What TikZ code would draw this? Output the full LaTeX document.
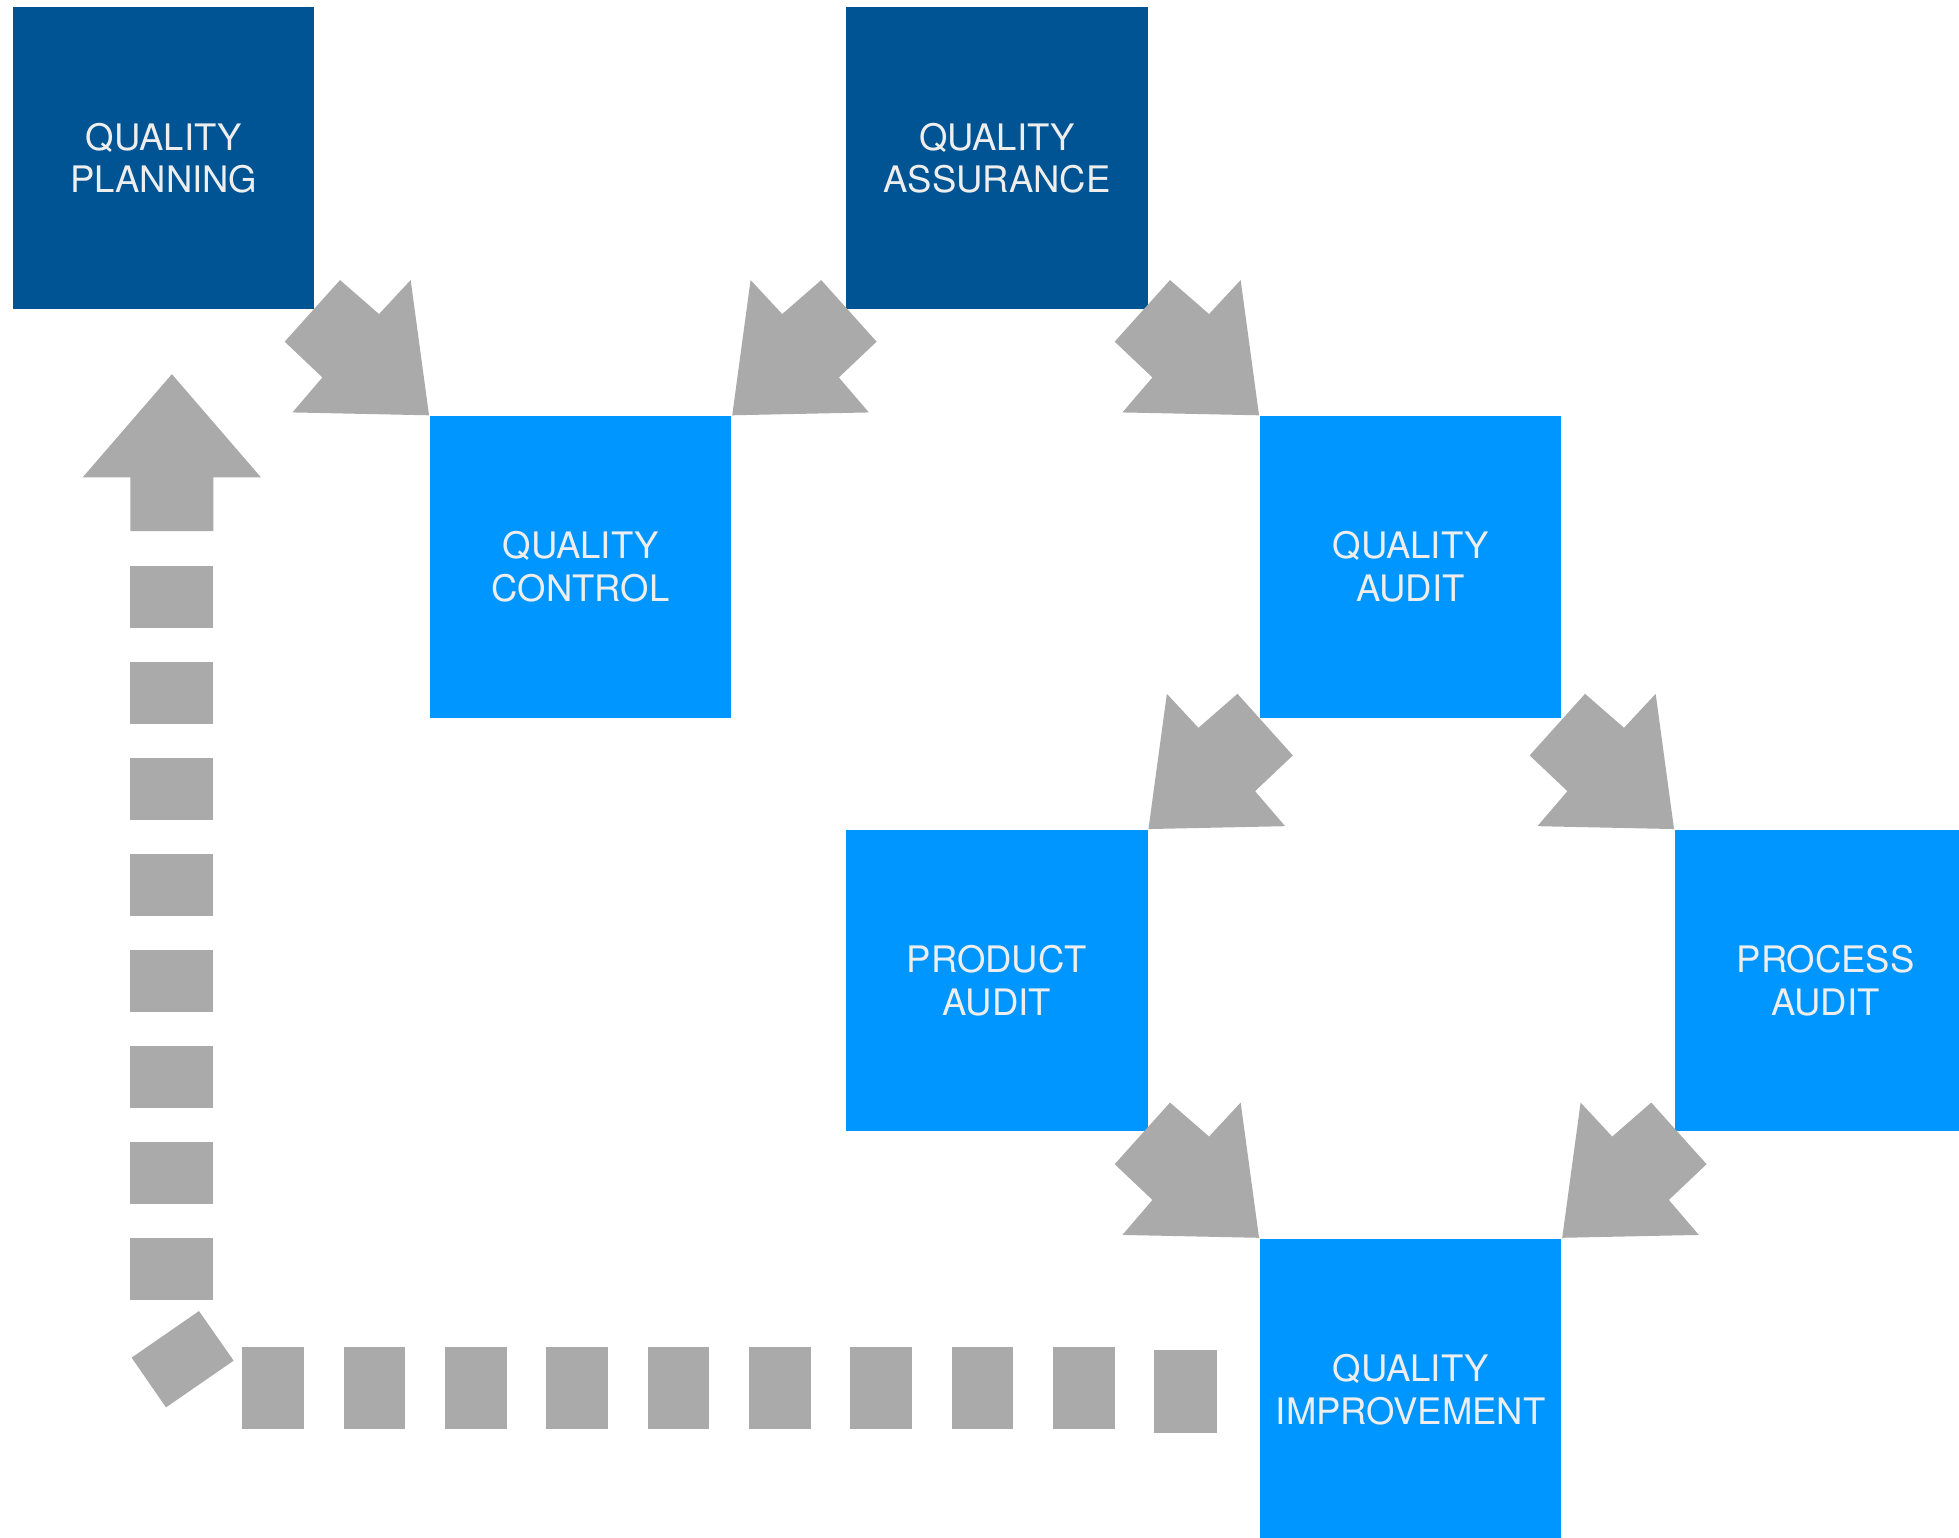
\documentclass[tikz,border=0pt]{standalone}
\usepackage{fontspec}
\setmainfont{TeX Gyre Heros}
\usetikzlibrary{calc}

\definecolor{deepblue}{HTML}{005493}
\definecolor{skyblue}{HTML}{0096FF}
\definecolor{arrowgray}{HTML}{AAAAAA}
\definecolor{labelwhite}{HTML}{EEEEEE}

\tikzset{
    box/.style={minimum size=2.41cm, inner sep=0pt, align=center, text=labelwhite,
        font=\fontsize{8.3pt}{9.7pt}\selectfont},
    darkbox/.style={box, fill=deepblue},
    lightbox/.style={box, fill=skyblue},
    % fat arrow, tip at the origin, pointing down right
    fatarrow/.pic={
        \fill[arrowgray] (0,0) -- (-14.7,-108.2) -- (-40,-81) -- (-71.2,-108.2)
            -- (-115.5,-58.9) -- (-85.3,-30.3) -- (-109.3,-2.3) -- cycle;
    }
}

\begin{document}
\begin{tikzpicture}[x=0.01cm, y=-0.01cm]
        \useasboundingbox (0,0) rectangle (1567.2,1229.6);
        \clip (0,0) rectangle (1567.2,1229.6);

        \node[darkbox] (qp) at (131,126.5) {QUALITY\\PLANNING};
        \node[darkbox] (qa) at (797.5,126.5) {QUALITY\\ASSURANCE};
        \node[lightbox] (qc) at (464.5,453.5) {QUALITY\\CONTROL};
        \node[lightbox] (qaud) at (1128.5,453.5) {QUALITY\\AUDIT};
        \node[lightbox] (pdt) at (797.5,784.5) {PRODUCT\\AUDIT};
        \node[lightbox] (prc) at (1460.5,784.5) {PROCESS\\AUDIT};
        \node[lightbox] (qi) at (1128.5,1111.5) {QUALITY\\IMPROVEMENT};

        % arrows end at the corner of the box they point to
        \pic at (qc.north west) {fatarrow}; % planning -> control
        \pic[xscale=-1] at (qc.north east) {fatarrow}; % assurance -> control
        \pic at (qaud.north west) {fatarrow}; % assurance -> audit
        \pic[xscale=-1] at (pdt.north east) {fatarrow}; % audit -> product
        \pic at (prc.north west) {fatarrow}; % audit -> process
        \pic at (qi.north west) {fatarrow}; % product -> improvement
        \pic[xscale=-1] at (qi.north east) {fatarrow}; % process -> improvement

        % dashed way back from improvement to planning
        \begin{scope}[arrowgray]
            \foreach \k in {0,...,8}
                \fill (193.9+81.07*\k,1077.9) rectangle ++(49.3,65.6);
            \fill (923.5,1080) rectangle (973.3,1146);
            \fill (159.2,1048.8) -- (186.9,1088.5) -- (132.8,1125.9) -- (105.3,1086.1) -- cycle;
            \foreach \k in {0,...,7}
                \fill (104.2,452.8+76.8*\k) rectangle ++(66.4,49.3);
            \fill (137.5,299.3) -- (208.8,381.9) -- (170.6,381.9) -- (170.6,424.8)
                -- (104.2,424.8) -- (104.2,381.9) -- (66.1,381.9) -- cycle;
        \end{scope}

    \end{tikzpicture}
\end{document}
